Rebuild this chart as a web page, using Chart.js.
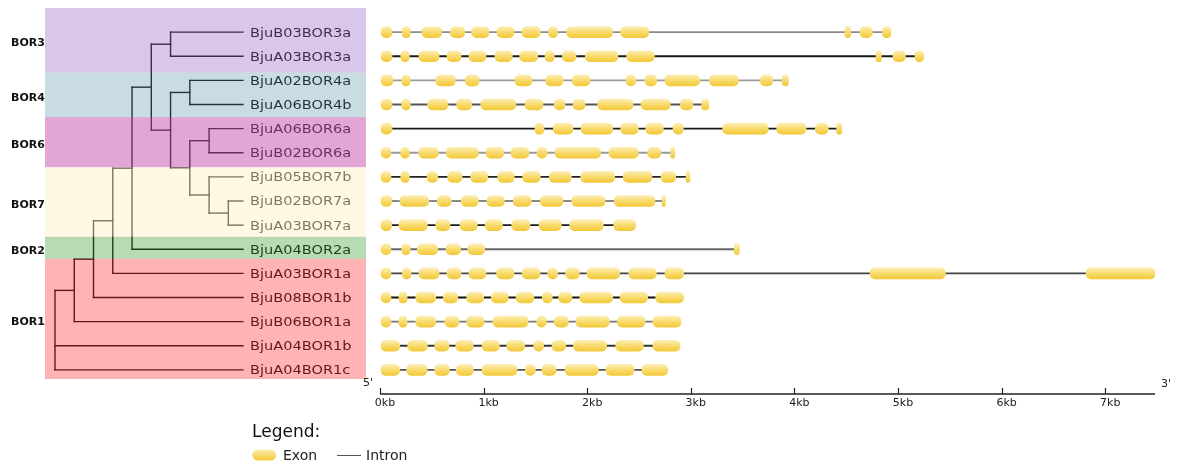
<!DOCTYPE html>
<html><head><meta charset="utf-8">
<script src="https://cdn.jsdelivr.net/npm/chart.js@4.4.0/dist/chart.umd.min.js"></script>
<style>html,body{margin:0;padding:0;background:#fff;}#wrap{width:1177px;height:465px;}</style>
</head><body><div id="wrap"><canvas id="c" width="1177" height="465"></canvas></div>
<script>
// ---------- DATA ----------
const genes = ['BjuB03BOR3a','BjuA03BOR3a','BjuA02BOR4a','BjuA06BOR4b','BjuA06BOR6a','BjuB02BOR6a',
  'BjuB05BOR7b','BjuB02BOR7a','BjuA03BOR7a','BjuA04BOR2a','BjuA03BOR1a','BjuB08BOR1b','BjuB06BOR1a',
  'BjuA04BOR1b','BjuA04BOR1c'];
const groupNames = ['BOR3','BOR4','BOR6','BOR7','BOR2','BOR1'];
const kbTicks = [0,1,2,3,4,5,6,7];

// exons, kb [start, end]
const exB03BOR3a = [[0.01,0.116],[0.215,0.292],[0.405,0.596],[0.679,0.818],[0.885,1.052],[1.129,1.293],[1.371,1.547],[1.625,1.715],[1.802,2.246],[2.323,2.594],[4.488,4.543],[4.633,4.752],[4.849,4.932]];
const exA03BOR3a = [[0.01,0.116],[0.2,0.283],[0.376,0.57],[0.647,0.782],[0.859,1.023],[1.11,1.277],[1.348,1.522],[1.593,1.682],[1.76,1.892],[1.982,2.297],[2.381,2.648],[4.788,4.839],[4.952,5.071],[5.164,5.248]];
const exA02BOR4a = [[0.01,0.125],[0.209,0.292],[0.538,0.727],[0.823,0.958],[1.303,1.467],[1.599,1.766],[1.856,2.027],[2.375,2.468],[2.558,2.671],[2.751,3.086],[3.179,3.459],[3.671,3.791],[3.883,3.941]];
const exA06BOR4b = [[0.01,0.116],[0.209,0.292],[0.46,0.656],[0.74,0.885],[0.972,1.31],[1.4,1.573],[1.682,1.786],[1.863,1.979],[2.101,2.442],[2.519,2.802],[2.899,3.021],[3.105,3.173]];
const exA06BOR6a = [[0.01,0.116],[1.496,1.583],[1.673,1.863],[1.94,2.246],[2.323,2.493],[2.565,2.735],[2.828,2.928],[3.308,3.748],[3.829,4.112],[4.202,4.327],[4.408,4.457]];
const exB02BOR6a = [[0.01,0.106],[0.2,0.283],[0.374,0.563],[0.64,0.949],[1.023,1.194],[1.264,1.438],[1.515,1.612],[1.689,2.13],[2.21,2.493],[2.584,2.712],[2.806,2.845]];
const exB05BOR7b = [[0.01,0.106],[0.2,0.283],[0.454,0.557],[0.653,0.792],[0.875,1.04],[1.136,1.296],[1.377,1.547],[1.634,1.847],[1.937,2.265],[2.348,2.625],[2.712,2.854],[2.954,2.992]];
const exB02BOR7a = [[0.01,0.113],[0.193,0.47],[0.553,0.688],[0.785,0.949],[1.033,1.2],[1.287,1.46],[1.547,1.766],[1.85,2.172],[2.262,2.654],[2.722,2.754]];
const exA03BOR7a = [[0.01,0.113],[0.183,0.457],[0.538,0.676],[0.772,0.939],[1.016,1.181],[1.271,1.448],[1.535,1.75],[1.831,2.155],[2.256,2.468]];
const exA04BOR2a = [[0.01,0.106],[0.209,0.292],[0.36,0.557],[0.637,0.779],[0.847,1.011],[3.42,3.468]];
const exA03BOR1a = [[0.01,0.106],[0.215,0.299],[0.376,0.57],[0.647,0.782],[0.859,1.023],[1.126,1.293],[1.371,1.544],[1.619,1.715],[1.792,1.924],[1.998,2.314],[2.401,2.667],[2.751,2.931],[4.73,5.457],[6.815,7.481]];
const exB08BOR1b = [[0.01,0.106],[0.183,0.261],[0.345,0.538],[0.611,0.75],[0.837,1.001],[1.074,1.238],[1.313,1.486],[1.567,1.663],[1.725,1.853],[1.928,2.246],[2.317,2.584],[2.661,2.931]];
const exB06BOR1a = [[0.01,0.106],[0.183,0.261],[0.345,0.538],[0.627,0.763],[0.837,1.004],[1.091,1.429],[1.513,1.605],[1.682,1.818],[1.892,2.213],[2.291,2.558],[2.635,2.905]];
const exA04BOR1b = [[0.01,0.19],[0.267,0.457],[0.528,0.666],[0.731,0.901],[0.985,1.152],[1.223,1.397],[1.484,1.58],[1.66,1.792],[1.866,2.188],[2.275,2.542],[2.635,2.896]];
const exA04BOR1c = [[0.01,0.19],[0.258,0.454],[0.528,0.669],[0.736,0.901],[0.985,1.322],[1.403,1.499],[1.564,1.699],[1.786,2.107],[2.181,2.452],[2.529,2.777]];
const geneExons = [exB03BOR3a,exA03BOR3a,exA02BOR4a,exA06BOR4b,exA06BOR6a,exB02BOR6a,exB05BOR7b,exB02BOR7a,exA03BOR7a,exA04BOR2a,exA03BOR1a,exB08BOR1b,exB06BOR1a,exA04BOR1b,exA04BOR1c];

// tree (cladogram): internal node = [depth, children]; leaf = row index
const tipDepth = 9.76;
const cBOR3 = [6,[0,1]];
const cBOR4 = [7,[2,3]];
const cBOR6 = [8,[4,5]];
const cBOR7a = [9,[7,8]];
const cBOR7 = [8,[6,cBOR7a]];
const n467 = [7,[cBOR6,cBOR7]];
const n4to7 = [6,[cBOR4,n467]];
const n3to7 = [5,[cBOR3,n4to7]];
const nWithBOR2 = [4,[n3to7,9]];
const nA = [3,[nWithBOR2,10]];
const nB = [2,[nA,11]];
const nC = [1,[nB,12]];
const treeRoot = [0,[nC,13,14]];

// ---------- LAYOUT / STYLE ----------
const bandEdges = [-1,1.68,3.52,5.6,8.48,9.4,14.38]; // row units
const bandFill = ['rgba(144,95,195,0.35)','rgba(72,138,158,0.30)','rgba(195,77,173,0.50)','rgba(253,239,197,0.45)','rgba(49,155,41,0.35)','rgba(252,41,41,0.35)'];
const intronColors = ['#8a8a8a','#1a1a1a','#9a9a9a','#555','#1a1a1a','#999','#222','#888','#1a1a1a','#666','#444','#111','#777','#333','#555'];
const AREA_RIGHT = 1155, ZERO_PX = 380, KB_PX = 103.6, TREE_PX0 = 55, TREE_UNIT = 19.26;
const FONT = '"DejaVu Sans", Verdana, sans-serif';

// ---------- BUILD DATASETS ----------
const datasets = [];
const exonPts = [];
geneExons.forEach((ex,row)=>{
  ex.forEach(e=>exonPts.push({x:[e[0],e[1]], y:row}));
  datasets.push({type:'line', xAxisID:'x', yAxisID:'y', order:2,
    data:[{x:ex[0][0],y:row},{x:ex[ex.length-1][1],y:row}],
    borderColor:intronColors[row], borderWidth:1.8, pointRadius:0});
});
function exonFill(c){
  const ch = c.chart;
  if (c.type !== 'data' || !ch.chartArea || !c.raw) return '#f7d65a';
  const y = ch.scales.y.getPixelForValue(c.raw.y);
  const g = ch.ctx.createLinearGradient(0,y-6,0,y+6);
  g.addColorStop(0,'#fdf0bd'); g.addColorStop(0.45,'#f9dd74'); g.addColorStop(1,'#f2c733');
  return g;
}
datasets.push({type:'bar', indexAxis:'y', xAxisID:'x', yAxisID:'y', order:0, data:exonPts,
  grouped:false, barThickness:11, maxBarThickness:11, barPercentage:1, categoryPercentage:1,
  borderRadius:5, borderSkipped:false, borderWidth:0, backgroundColor:exonFill});

function seg(x1,y1,x2,y2){
  datasets.push({type:'line', xAxisID:'xt', yAxisID:'y', order:3,
    data:[{x:x1,y:y1},{x:x2,y:y2}], borderColor:'#111', borderWidth:1.4,
    borderCapStyle:'square', pointRadius:0});
}
function layoutTree(node){
  if (typeof node === 'number') return {y:node, d:tipDepth};
  const d = node[0];
  const kids = node[1].map(layoutTree);
  const ys = kids.map(k=>k.y);
  const y0 = Math.min(...ys), y1 = Math.max(...ys);
  seg(d,y0,d,y1);
  kids.forEach(k=>seg(d,k.y,k.d,k.y));
  return {y:(y0+y1)/2, d:d};
}
layoutTree(treeRoot);

// ---------- DECORATION PLUGIN ----------
const deco = {
  id:'deco',
  afterDatasetsDraw(chart){
    const ctx = chart.ctx, ys = chart.scales.y, xs = chart.scales.x;
    const bottom = chart.chartArea.bottom;
    ctx.save();
    // gene labels
    ctx.fillStyle = '#111'; ctx.font = '13px '+FONT; ctx.textBaseline = 'middle'; ctx.textAlign='left';
    genes.forEach((g,i)=>{
      ctx.save(); ctx.translate(250, ys.getPixelForValue(i)+1); ctx.scale(1.12,1);
      ctx.fillText(g,0,0); ctx.restore();
    });
    // band overlays
    groupNames.forEach((n,i)=>{
      const t = ys.getPixelForValue(bandEdges[i]), b = ys.getPixelForValue(bandEdges[i+1]);
      ctx.fillStyle = bandFill[i];
      ctx.fillRect(45, t, 321, b-t);
    });
    // group labels
    ctx.fillStyle = '#111'; ctx.font = 'bold 11px '+FONT;
    groupNames.forEach((n,i)=>{
      const t = ys.getPixelForValue(bandEdges[i]), b = ys.getPixelForValue(bandEdges[i+1]);
      ctx.fillText(n, 11, (t+b)/2 + 3);
    });
    // axis line & ticks
    ctx.strokeStyle = '#222'; ctx.lineWidth = 1.5;
    ctx.beginPath(); ctx.moveTo(xs.getPixelForValue(0), bottom); ctx.lineTo(chart.chartArea.right, bottom); ctx.stroke();
    ctx.lineWidth = 1.2;
    kbTicks.forEach(v=>{
      const px = Math.round(xs.getPixelForValue(v))+0.5;
      ctx.beginPath(); ctx.moveTo(px, bottom); ctx.lineTo(px, bottom-6); ctx.stroke();
    });
    ctx.fillStyle = '#222'; ctx.font = '11px '+FONT; ctx.textAlign='center';
    ctx.fillText("5'", 368, 383);
    ctx.fillText("3'", 1166, 384);
    // legend
    ctx.textAlign='left'; ctx.textBaseline='alphabetic'; ctx.fillStyle='#111';
    ctx.font = '17px '+FONT; ctx.fillText('Legend:', 252, 437);
    const lg = ctx.createLinearGradient(0,449,0,461);
    lg.addColorStop(0,'#fdf0bd'); lg.addColorStop(0.45,'#f9dd74'); lg.addColorStop(1,'#f2c733');
    ctx.fillStyle = lg; ctx.beginPath(); ctx.roundRect(252.5,449.5,23.5,11,5); ctx.fill();
    ctx.fillStyle='#222'; ctx.font='14px '+FONT;
    ctx.fillText('Exon', 283, 460);
    ctx.strokeStyle='#555'; ctx.lineWidth=1;
    ctx.beginPath(); ctx.moveTo(337,455.5); ctx.lineTo(361,455.5); ctx.stroke();
    ctx.fillText('Intron', 366, 460);
    ctx.restore();
  }
};

new Chart(document.getElementById('c'), {
  type:'bar',
  data:{datasets},
  options:{
    responsive:false, animation:false, events:[],
    layout:{padding:{left:0,right:1177-AREA_RIGHT,top:8,bottom:0}},
    plugins:{legend:{display:false}, tooltip:{enabled:false}},
    scales:{
      x:{type:'linear', axis:'x', position:'bottom', offset:false,
        min:-ZERO_PX/KB_PX, max:(AREA_RIGHT-ZERO_PX)/KB_PX,
        afterBuildTicks:s=>{ s.ticks = kbTicks.map(v=>({value:v})); },
        afterFit:s=>{ s.height = 71; },
        grid:{display:false, drawTicks:false}, border:{display:false},
        ticks:{autoSkip:false, maxRotation:0, padding:3, labelOffset:5, color:'#222',
          font:{family:FONT, size:11}, callback:v=>v+'kb'}},
      xt:{type:'linear', axis:'x', display:false, offset:false,
        min:-TREE_PX0/TREE_UNIT, max:(AREA_RIGHT-TREE_PX0)/TREE_UNIT},
      y:{type:'linear', axis:'y', display:false, reverse:true, offset:false, min:-1, max:15}
    }
  },
  plugins:[deco]
});
</script>
</body></html>
